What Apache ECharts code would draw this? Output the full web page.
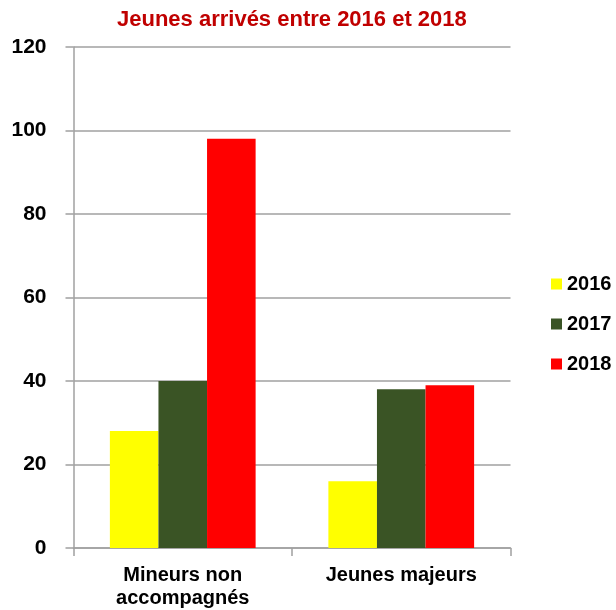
<!DOCTYPE html>
<html><head><meta charset="utf-8">
<script src="https://cdn.jsdelivr.net/npm/echarts@6/dist/echarts.min.js"></script>
<style>html,body{margin:0;padding:0;background:#fff}#c{width:616px;height:610px}</style>
</head><body><div id="c"></div>
<script>
const categories = ['Mineurs non\naccompagnés', 'Jeunes majeurs'];
const seriesNames = ['2016', '2017', '2018'];
const values2016 = [28, 16];
const values2017 = [40, 38];
const values2018 = [98, 39];
const colors = ['#FFFF00', '#3A5425', '#FF0000'];
const yTicks = [0, 20, 40, 60, 80, 100, 120];

const font = '"Liberation Sans", Arial, sans-serif';
const chart = echarts.init(document.getElementById('c'));
const data = [values2016, values2017, values2018];
chart.setOption({
  animation: false,
  title: {
    text: 'Jeunes arrivés entre 2016 et 2018',
    left: 112, top: 4,
    textStyle: {color: '#C00000', fontFamily: font, fontWeight: 'bold', fontSize: 22}
  },
  legend: {
    orient: 'vertical', left: 551, top: 274, itemGap: 20, padding: 0,
    itemWidth: 11, itemHeight: 11, icon: 'rect',
    textStyle: {fontFamily: font, fontWeight: 'bold', fontSize: 20, lineHeight: 20, color: '#000'},
    data: seriesNames
  },
  grid: {left: 73.5, right: 105.5, top: 47, bottom: 61},
  xAxis: {
    type: 'category', data: categories,
    axisLine: {lineStyle: {color: '#A0A0A0', width: 1.5}},
    axisTick: {show: true, length: 8, lineStyle: {color: '#A0A0A0', width: 1.5}},
    axisLabel: {fontFamily: font, fontWeight: 'bold', fontSize: 20, color: '#000', margin: 16, lineHeight: 23}
  },
  yAxis: {
    type: 'value', min: yTicks[0], max: yTicks[yTicks.length-1], interval: 20,
    axisLine: {show: true, lineStyle: {color: '#A0A0A0', width: 1.5}},
    axisTick: {show: true, length: 8, lineStyle: {color: '#A0A0A0', width: 1.5}},
    splitLine: {lineStyle: {color: '#A0A0A0', width: 1.5}},
    axisLabel: {fontFamily: font, fontWeight: 'bold', fontSize: 21, color: '#000', margin: 27}
  },
  series: seriesNames.map((n, i) => ({
    name: n, type: 'bar', data: data[i],
    itemStyle: {color: colors[i]},
    barGap: '0%', barCategoryGap: '33.3%'
  }))
});
</script></body></html>
